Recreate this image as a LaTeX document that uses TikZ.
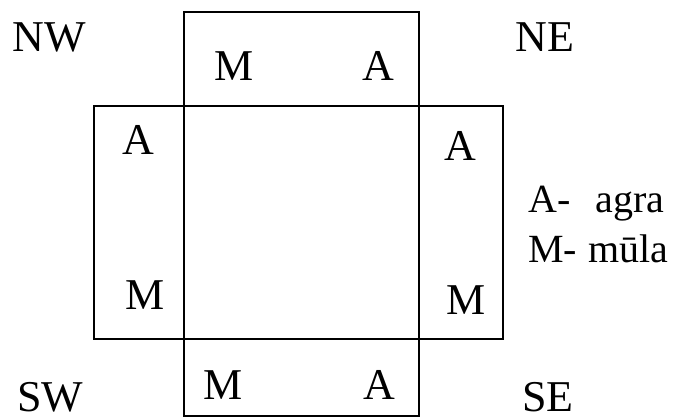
\documentclass[tikz,border=0pt]{standalone}
\usepackage{fontspec}
\setmainfont{Liberation Serif}
\usetikzlibrary{positioning}
\begin{document}
\begin{tikzpicture}[x=1pt, y=1pt,
    panel/.style={draw, line width=1.6pt, inner sep=0pt, outer sep=0pt},
    lbl/.style={font=\fontsize{44}{48}\selectfont, anchor=base, inner sep=0pt},
    key/.style={font=\fontsize{40}{44}\selectfont, anchor=base west, inner sep=0pt}]
    \useasboundingbox (0,0) rectangle (685,419);
    % centre square and the four side panels
    \node[panel, minimum width=235pt, minimum height=233pt] (centre) at (301.5,196.5) {};
    \node[panel, minimum width=235pt, minimum height=94pt] (top) [above=0pt of centre] {};
    \node[panel, minimum width=235pt, minimum height=77pt] (bottom) [below=0pt of centre] {};
    \node[panel, minimum width=90pt, minimum height=233pt] (left) [left=0pt of centre] {};
    \node[panel, minimum width=84pt, minimum height=233pt] (right) [right=0pt of centre] {};
    % directions
    \node[lbl] (nw) at (49,367) {NW};
    \node[lbl] (ne) at (545,367) {NE};
    \node[lbl] (sw) at (50,7) {SW};
    \node[lbl] (se) at (548,7) {SE};
    % M and A in each panel
    \node[lbl] (topM) at (234,338) {M};
    \node[lbl] (topA) at (378,338) {A};
    \node[lbl] (leftA) at (138,264) {A};
    \node[lbl] (leftM) at (145,109) {M};
    \node[lbl] (rightA) at (460,258) {A};
    \node[lbl] (rightM) at (466,104) {M};
    \node[lbl] (bottomM) at (223,19) {M};
    \node[lbl] (bottomA) at (379,19) {A};
    % key
    \node[key] (keyA) at (528,206) {A-\hspace{25pt}agra};
    \node[key] (keyM) at (528,156) {M-\hspace{11pt}mūla};
\end{tikzpicture}
\end{document}
